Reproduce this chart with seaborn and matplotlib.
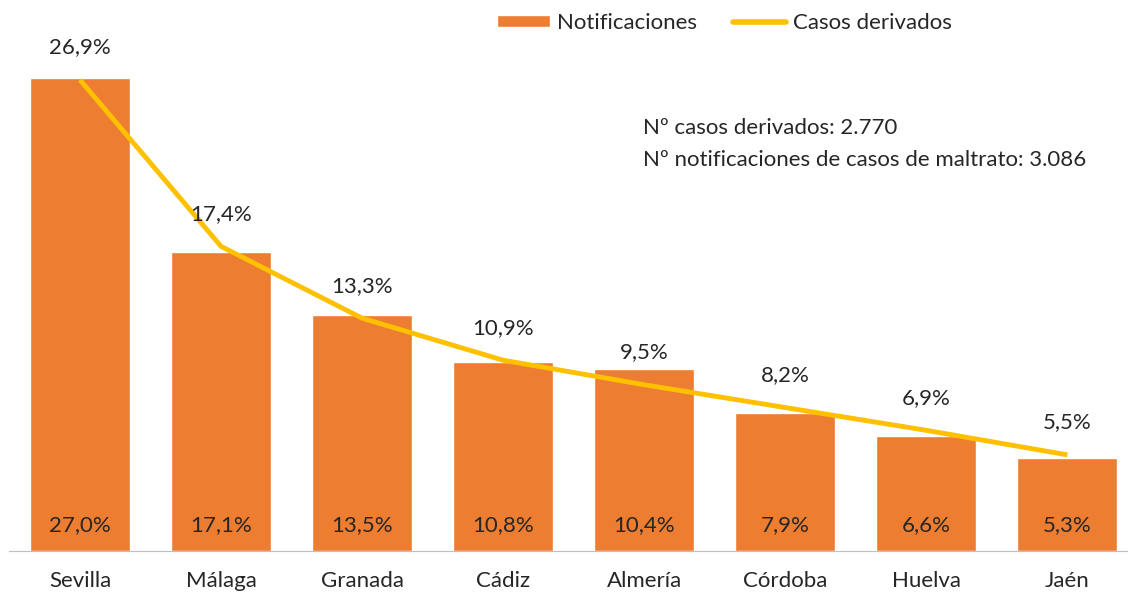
import numpy as np
import pandas as pd
import seaborn as sns
import matplotlib.pyplot as plt
from matplotlib.patches import Patch
from matplotlib.lines import Line2D

# datos por provincia (%)
provincias = ["Sevilla", "Málaga", "Granada", "Cádiz", "Almería", "Córdoba", "Huelva", "Jaén"]
notificaciones = [27.0, 17.1, 13.5, 10.8, 10.4, 7.9, 6.6, 5.3]
casos_derivados = [26.9, 17.4, 13.3, 10.9, 9.5, 8.2, 6.9, 5.5]

naranja = "#ED7D31"
amarillo = "#FFC000"

sns.set_style("white")
plt.rcParams["font.family"] = ["Lato", "DejaVu Sans"]
fs = 16

df = pd.DataFrame({"provincia": provincias, "notif": notificaciones, "casos": casos_derivados})

fig = plt.figure(figsize=(11.28, 5.94), dpi=100)
ax = fig.add_axes([0.008, 0.072, 0.992, 0.885])

sns.barplot(data=df, x="provincia", y="notif", color=naranja, saturation=1, width=0.71, ax=ax)
x = np.arange(len(provincias))
ax.plot(x, df["casos"], color=amarillo, lw=3.5, solid_capstyle="butt")

for i, (n, c) in enumerate(zip(notificaciones, casos_derivados)):
    ax.text(i, 1.5, f"{n:.1f}%".replace(".", ","), ha="center", va="center", fontsize=fs)
    ax.text(i, c + 1.85, f"{c:.1f}%".replace(".", ","), ha="center", va="center", fontsize=fs)

ax.text(0.567, 0.805, "Nº casos derivados: 2.770", transform=ax.transAxes, fontsize=fs, va="center")
ax.text(0.567, 0.744, "Nº notificaciones de casos de maltrato: 3.086", transform=ax.transAxes, fontsize=fs, va="center")

ax.set_ylim(0, 30)
ax.set_xlim(-0.503, 7.43)
ax.set_xlabel("")
ax.set_ylabel("")
ax.set_yticks([])
ax.tick_params(axis="x", labelsize=fs, length=0, pad=14)
for s in ["top", "right", "left"]:
    ax.spines[s].set_visible(False)
ax.spines["bottom"].set_color("#BFBFBF")

handles = [Patch(facecolor=naranja, label="Notificaciones"),
           Line2D([0], [0], color=amarillo, lw=4, label="Casos derivados")]
fig.legend(handles=handles, loc="center", bbox_to_anchor=(0.642, 0.961), ncol=2, frameon=False,
           fontsize=fs, handlelength=2.4, handleheight=0.45, columnspacing=1.6, handletextpad=0.3)

fig.savefig("out.png", dpi=100)
